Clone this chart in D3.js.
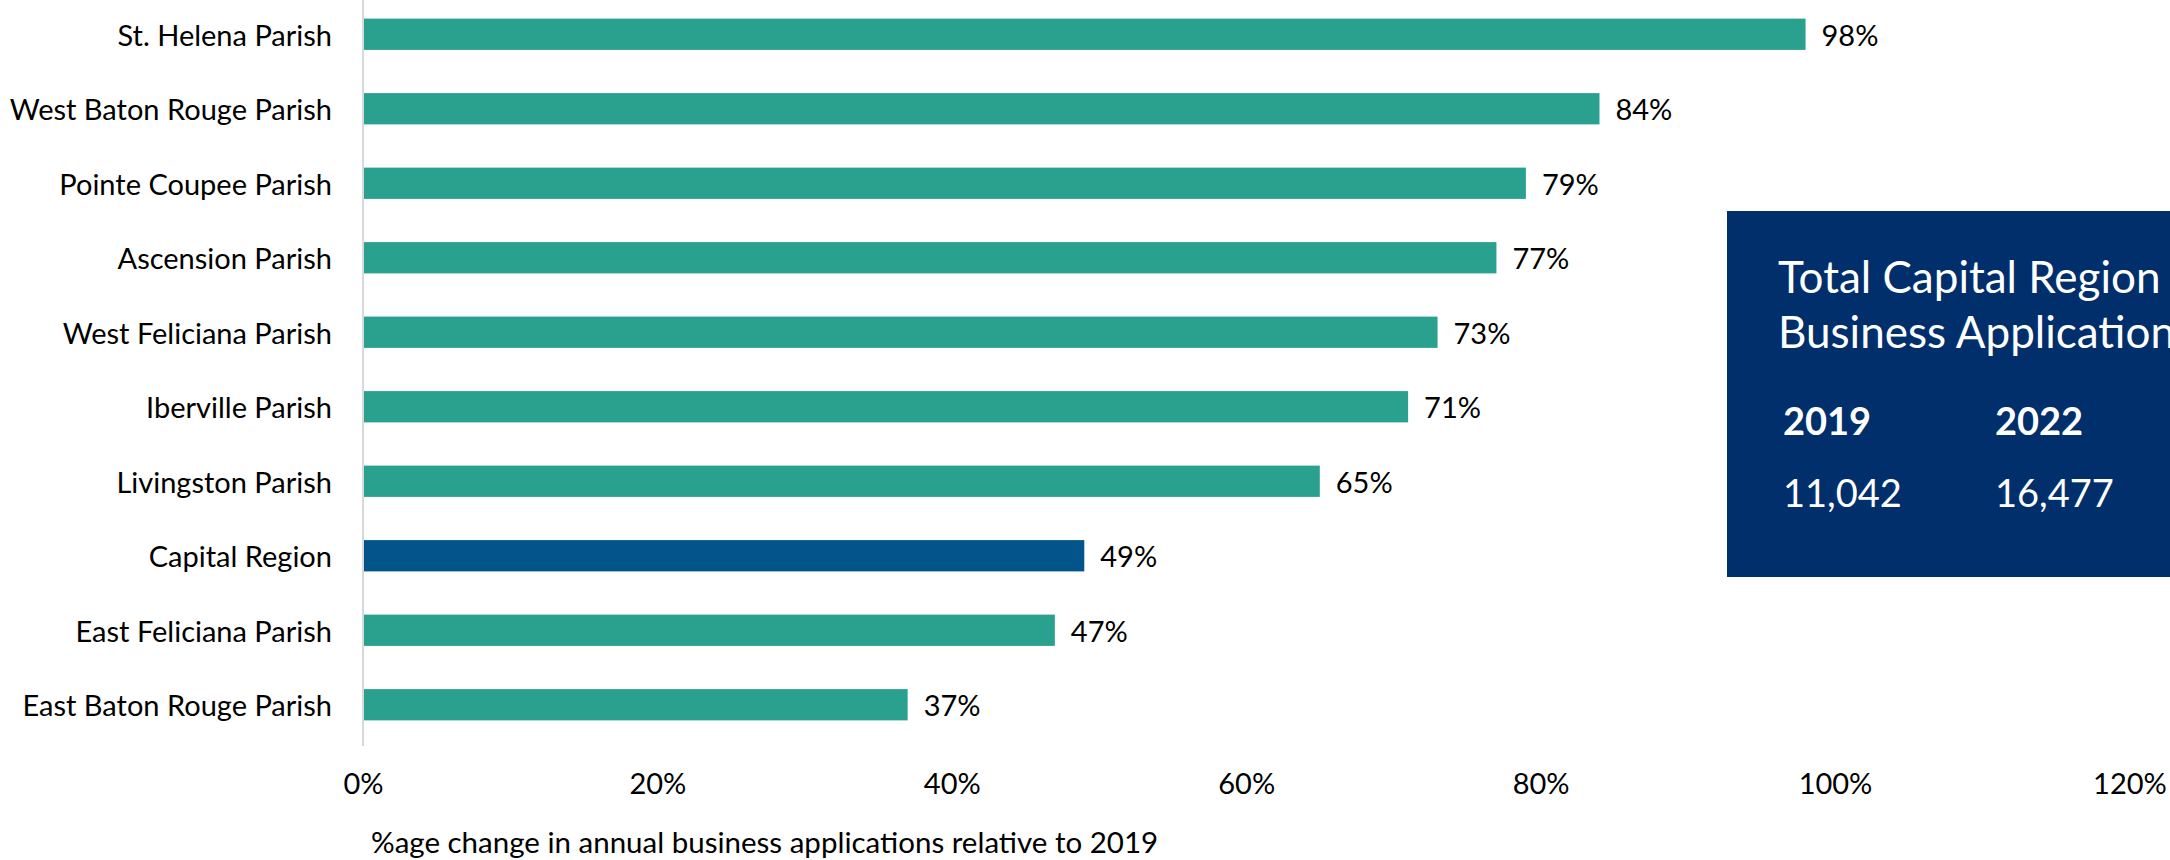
<!DOCTYPE html>
<html>
<head>
<meta charset="utf-8">
<script src="https://cdn.jsdelivr.net/npm/d3@7"></script>
<style>
  html, body { margin: 0; padding: 0; background: #fff; }
  svg { display: block; font-family: Lato, "Open Sans", sans-serif; }
</style>
</head>
<body>
<svg id="chart" width="2170" height="860"></svg>
<script>
// Parishes, ordered top to bottom
const categories = [
  "St. Helena Parish",
  "West Baton Rouge Parish",
  "Pointe Coupee Parish",
  "Ascension Parish",
  "West Feliciana Parish",
  "Iberville Parish",
  "Livingston Parish",
  "Capital Region",
  "East Feliciana Parish",
  "East Baton Rouge Parish"
];
// Change in business applications, 2022 vs 2019
const changeValues = [0.98, 0.84, 0.79, 0.77, 0.73, 0.71, 0.65, 0.49, 0.47, 0.37];
const tickValues = [0, 0.2, 0.4, 0.6, 0.8, 1.0, 1.2];
const axisTitle = "%age change in annual business applications relative to 2019";

// Summary panel
const panelTitle = ["Total Capital Region", "Business Applications"];
const panelYears = ["2019", "2022"];
const panelTotals = ["11,042", "16,477"];

const data = categories.map((c, i) => ({ name: c, value: changeValues[i] }));

const svg = d3.select("#chart");
const x0 = 363;
const x = d3.scaleLinear().domain([0, 1.2]).range([x0, x0 + 1.2 * 1472]);
const y = d3.scaleBand().domain(categories).range([-3, 742])
  .paddingInner(0.58).paddingOuter(0.29);

const teal = "#2aa18f";
const navy = "#03548a";

// bars
svg.append("g").selectAll("rect").data(data).join("rect")
  .attr("x", x(0))
  .attr("y", d => y(d.name))
  .attr("width", d => x(d.value) - x(0))
  .attr("height", y.bandwidth())
  .attr("fill", d => d.name === "Capital Region" ? navy : teal);

// vertical baseline
svg.append("line")
  .attr("x1", x(0)).attr("x2", x(0))
  .attr("y1", 0).attr("y2", 746)
  .attr("stroke", "#d9d9d9").attr("stroke-width", 2);

// category labels
svg.append("g").selectAll("text").data(data).join("text")
  .attr("x", x(0) - 31)
  .attr("y", d => y(d.name) + y.bandwidth() / 2)
  .attr("text-anchor", "end")
  .attr("dominant-baseline", "central")
  .attr("font-size", 29)
  .attr("fill", "#000")
  .text(d => d.name);

// value labels
const pct = d3.format(".0%");
svg.append("g").selectAll("text").data(data).join("text")
  .attr("x", d => x(d.value) + 16)
  .attr("y", d => y(d.name) + y.bandwidth() / 2)
  .attr("dominant-baseline", "central")
  .attr("font-size", 29)
  .attr("fill", "#000")
  .text(d => pct(d.value));

// x axis tick labels
const xAxis = d3.axisBottom(x).tickValues(tickValues).tickFormat(pct).tickSize(0).tickPadding(0);
const gx = svg.append("g").attr("transform", "translate(0,782)").call(xAxis);
gx.select(".domain").remove();
gx.selectAll("text")
  .attr("y", 0).attr("dy", null)
  .attr("dominant-baseline", "central")
  .attr("font-size", 29)
  .attr("font-family", "Lato, 'Open Sans', sans-serif")
  .attr("fill", "#000");

// axis title
svg.append("text")
  .attr("x", 371).attr("y", 841)
  .attr("dominant-baseline", "central")
  .attr("font-size", 29.5)
  .attr("fill", "#000")
  .text(axisTitle);

// summary panel, running off the right edge
const panel = svg.append("g");
panel.append("rect")
  .attr("x", 1727).attr("y", 211)
  .attr("width", 2170 - 1727 + 10).attr("height", 577 - 211)
  .attr("fill", "#002f6c");
panel.selectAll("text.title").data(panelTitle).join("text")
  .attr("class", "title")
  .attr("x", 1778).attr("y", (d, i) => 293 + i * 55)
  .attr("font-size", 44)
  .attr("fill", "#fff")
  .text(d => d);
panel.selectAll("text.year").data(panelYears).join("text")
  .attr("class", "year")
  .attr("x", (d, i) => [1783, 1995][i]).attr("y", 435)
  .attr("font-size", 38).attr("font-weight", "bold")
  .attr("fill", "#fff")
  .text(d => d);
panel.selectAll("text.total").data(panelTotals).join("text")
  .attr("class", "total")
  .attr("x", (d, i) => [1783, 1995][i]).attr("y", 507)
  .attr("font-size", 38)
  .attr("fill", "#fff")
  .text(d => d);
</script>
</body>
</html>
